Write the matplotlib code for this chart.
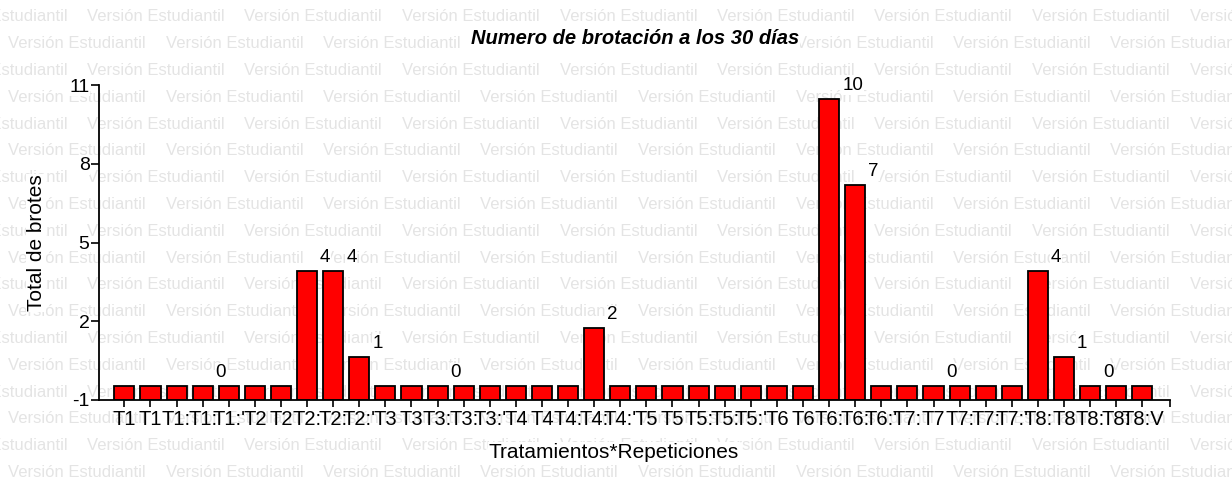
import numpy as np
import matplotlib
matplotlib.use('Agg')
import matplotlib.pyplot as plt

plt.rcParams['font.family'] = ['Liberation Sans', 'DejaVu Sans']

# datos: total de brotes por tratamiento y repeticion (T1..T8 x 5)
valores = [0, 0, 0, 0, 0,
           0, 0, 4, 4, 1,
           0, 0, 0, 0, 0,
           0, 0, 0, 2, 0,
           0, 0, 0, 0, 0,
           0, 0, 10, 7, 0,
           0, 0, 0, 0, 0,
           4, 1, 0, 0, 0]

etiquetas_x = ['T1', 'T1', 'T1:', 'T1:', "T1:'",
               'T2', 'T2', 'T2:', 'T2:', "T2:'",
               'T3', 'T3', 'T3:', 'T3:', "T3:'",
               'T4', 'T4', 'T4:', 'T4:', "T4:'",
               'T5', 'T5', 'T5:', 'T5:', "T5:'",
               'T6', 'T6', 'T6:', 'T6:', "T6:'",
               'T7:', 'T7', 'T7:', 'T7:', "T7:'",
               'T8:', 'T8', 'T8:', 'T8:', 'T8:V']

# barras que llevan el valor escrito
con_rotulo = [3, 7, 8, 9, 12, 18, 27, 28, 31, 35, 36, 37]

y_ticks = [-0.5, 2.25, 5, 7.75, 10.5]
y_tick_labels = ['-1', '2', '5', '8', '11']
y_min, y_max = -0.5, 10.5

caja = dict(facecolor='white', edgecolor='none', pad=0.6)

fig = plt.figure(figsize=(12.32, 4.82), dpi=100)

# marca de agua "Versión Estudiantil"
marca = 'Versión Estudiantil'
W, H = 1232, 482
t = fig.text(0, 0, marca, fontsize=10)
r = fig.canvas.get_renderer()
w = t.get_window_extent(renderer=r).width
t.remove()
fs = 10 * 137.0 / w
paso_x, paso_y = 157.5, 26.8
for k in range(18):
    yy = 16.9 + k * paso_y
    x0 = -70.5 if k % 2 == 0 else 8.0
    xx = x0
    while xx < W:
        fig.text(xx / W, 1 - yy / H, marca, fontsize=fs,
                 color='#e4e4e4', va='center', ha='left', zorder=-5)
        xx += paso_x

ax = fig.add_axes([99.3 / W, (H - 400) / H, (1170 - 99.3) / W, (400 - 85) / H])
ax.patch.set_alpha(0)

x = np.arange(len(valores))
alturas = np.array(valores) - y_min
bars = ax.bar(x, alturas, bottom=y_min, width=0.77, color='#ff0000',
              edgecolor='black', linewidth=1.3, zorder=2)

for i in con_rotulo:
    b = bars[i]
    ax.annotate(str(valores[i]), xy=(b.get_x() + b.get_width(), valores[i]),
                xytext=(3, 5), textcoords='offset pixels',
                ha='left', va='bottom', fontsize=13.5, bbox=caja)

ax.set_xlim(-0.96, 40.06)
ax.set_ylim(y_min, y_max)
ax.set_xticks(x)
ax.set_xticklabels(etiquetas_x, fontsize=14.5)
ax.set_xticks([40.06], minor=True)
ax.set_yticks(y_ticks)
ax.set_yticklabels(y_tick_labels, fontsize=14)
ax.tick_params(axis='both', which='both', direction='out', length=5,
               width=1.2, color='black', pad=2)
ax.tick_params(axis='y', length=6, pad=1)
for lab in ax.get_yticklabels():
    lab.set_bbox(caja)

for s in ['top', 'right']:
    ax.spines[s].set_visible(False)
for s in ['left', 'bottom']:
    ax.spines[s].set_linewidth(1.3)

fig.text(635 / W, 1 - 38 / H, 'Numero de brotación a los 30 días',
         fontsize=14.5, fontweight='bold', fontstyle='italic',
         ha='center', va='center', bbox=caja)
fig.text(614 / W, 1 - 452 / H, 'Tratamientos*Repeticiones',
         fontsize=15, ha='center', va='center', bbox=caja)
fig.text(36 / W, 1 - 243 / H, 'Total de brotes', fontsize=15,
         rotation=90, ha='center', va='center', bbox=caja)

fig.savefig('out.png', dpi=100)
